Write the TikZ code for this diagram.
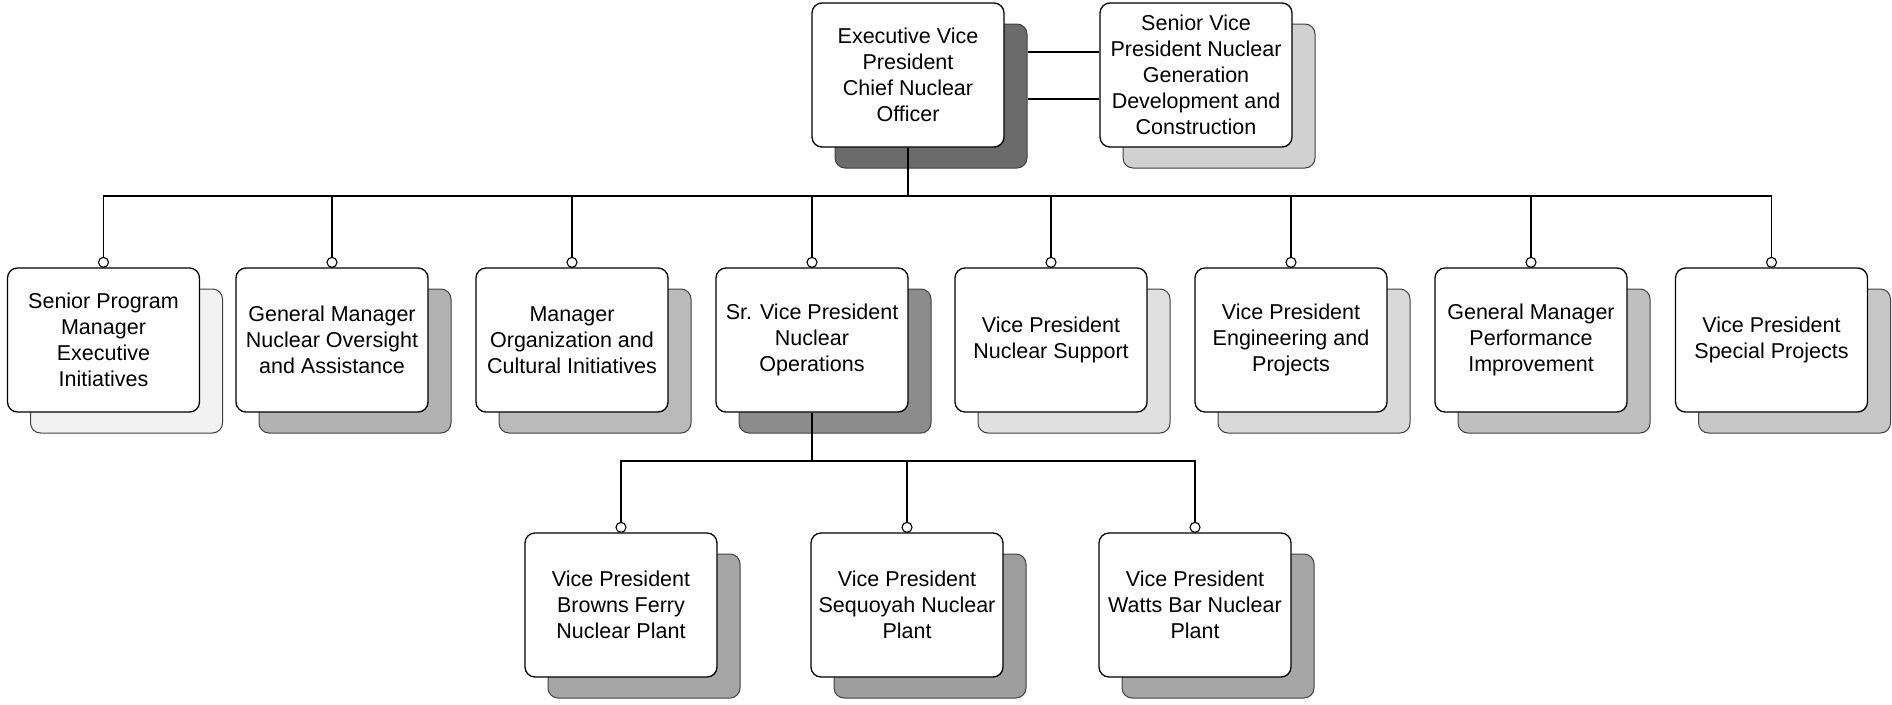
\documentclass[tikz,border=0pt]{standalone}
\usepackage{fontspec}
\setmainfont{Liberation Sans}
\pgfdeclarelayer{shadowlayer}
\pgfdeclarelayer{linelayer}
\pgfsetlayers{shadowlayer,linelayer,main}
\begin{document}
\begin{tikzpicture}[x=1pt,y=-1pt,
  box/.style={draw, line width=1.3pt, rounded corners=10pt, fill=white,
    minimum width=192pt, minimum height=144pt, align=center,
    font=\fontsize{21.5}{26}\selectfont, inner sep=0pt},
  shad/.style={draw=black!75, line width=1pt, rounded corners=10pt,
    minimum width=192pt, minimum height=144pt, inner sep=0pt},
  conn/.style={line width=1.2pt},
  dot/.style={circle, draw, line width=1.1pt, fill=white, inner sep=0pt, minimum size=10pt}]
\useasboundingbox (0,0) rectangle (1892,704);

% boxes
\node[box] (evp) at (908,75) {Executive Vice\\President\\Chief Nuclear\\Officer};
\node[box] (svp) at (1196,75) {Senior Vice\\President Nuclear\\Generation\\Development and\\Construction};

\node[box] (b1) at (103.5,340) {Senior Program\\Manager\\Executive\\Initiatives};
\node[box] (b2) at (332,340) {General Manager\\Nuclear Oversight\\and Assistance};
\node[box] (b3) at (572,340) {Manager\\Organization and\\Cultural Initiatives};
\node[box] (b4) at (812,340) {Sr. Vice President\\Nuclear\\Operations};
\node[box] (b5) at (1051,340) {Vice President\\Nuclear Support};
\node[box] (b6) at (1291,340) {Vice President\\Engineering and\\Projects};
\node[box] (b7) at (1531,340) {General Manager\\Performance\\Improvement};
\node[box] (b8) at (1771.5,340) {Vice President\\Special Projects};

\node[box] (p1) at (621,605) {Vice President\\Browns Ferry\\Nuclear Plant};
\node[box] (p2) at (907,605) {Vice President\\Sequoyah Nuclear\\Plant};
\node[box] (p3) at (1195,605) {Vice President\\Watts Bar Nuclear\\Plant};

% shadows
\begin{pgfonlayer}{shadowlayer}
\foreach \n/\c in {evp/58,svp/18,b1/5,b2/30,b3/27,b4/45,b5/12,b6/15,b7/25,b8/22,p1/35,p2/38,p3/35}
  \node[shad, fill=black!\c] (\n s) at ([xshift=23pt,yshift=-21pt]\n.center) {};
\end{pgfonlayer}

% connector circles
\foreach \n in {b1,b2,b3,b4,b5,b6,b7,b8,p1,p2,p3}
  \node[dot] (\n c) at ([yshift=5pt]\n.north) {};

% connectors
\coordinate (bus) at (908,196);
\coordinate (bustwo) at (812,461);
\coordinate (hone) at (0,52);
\coordinate (htwo) at (0,99);
\begin{pgfonlayer}{linelayer}
\draw[conn] (evps.east |- hone) -- (svp.west |- hone);
\draw[conn] (evps.east |- htwo) -- (svp.west |- htwo);
\foreach \n in {b1,b2,b3,b4,b5,b6,b7,b8}
  \draw[conn] (evp.south) -- (evp.south |- bus) -| (\n c.north);
\foreach \n in {p1,p2,p3}
  \draw[conn] (b4.south) -- (b4.south |- bustwo) -| (\n c.north);
\end{pgfonlayer}
\end{tikzpicture}
\end{document}
